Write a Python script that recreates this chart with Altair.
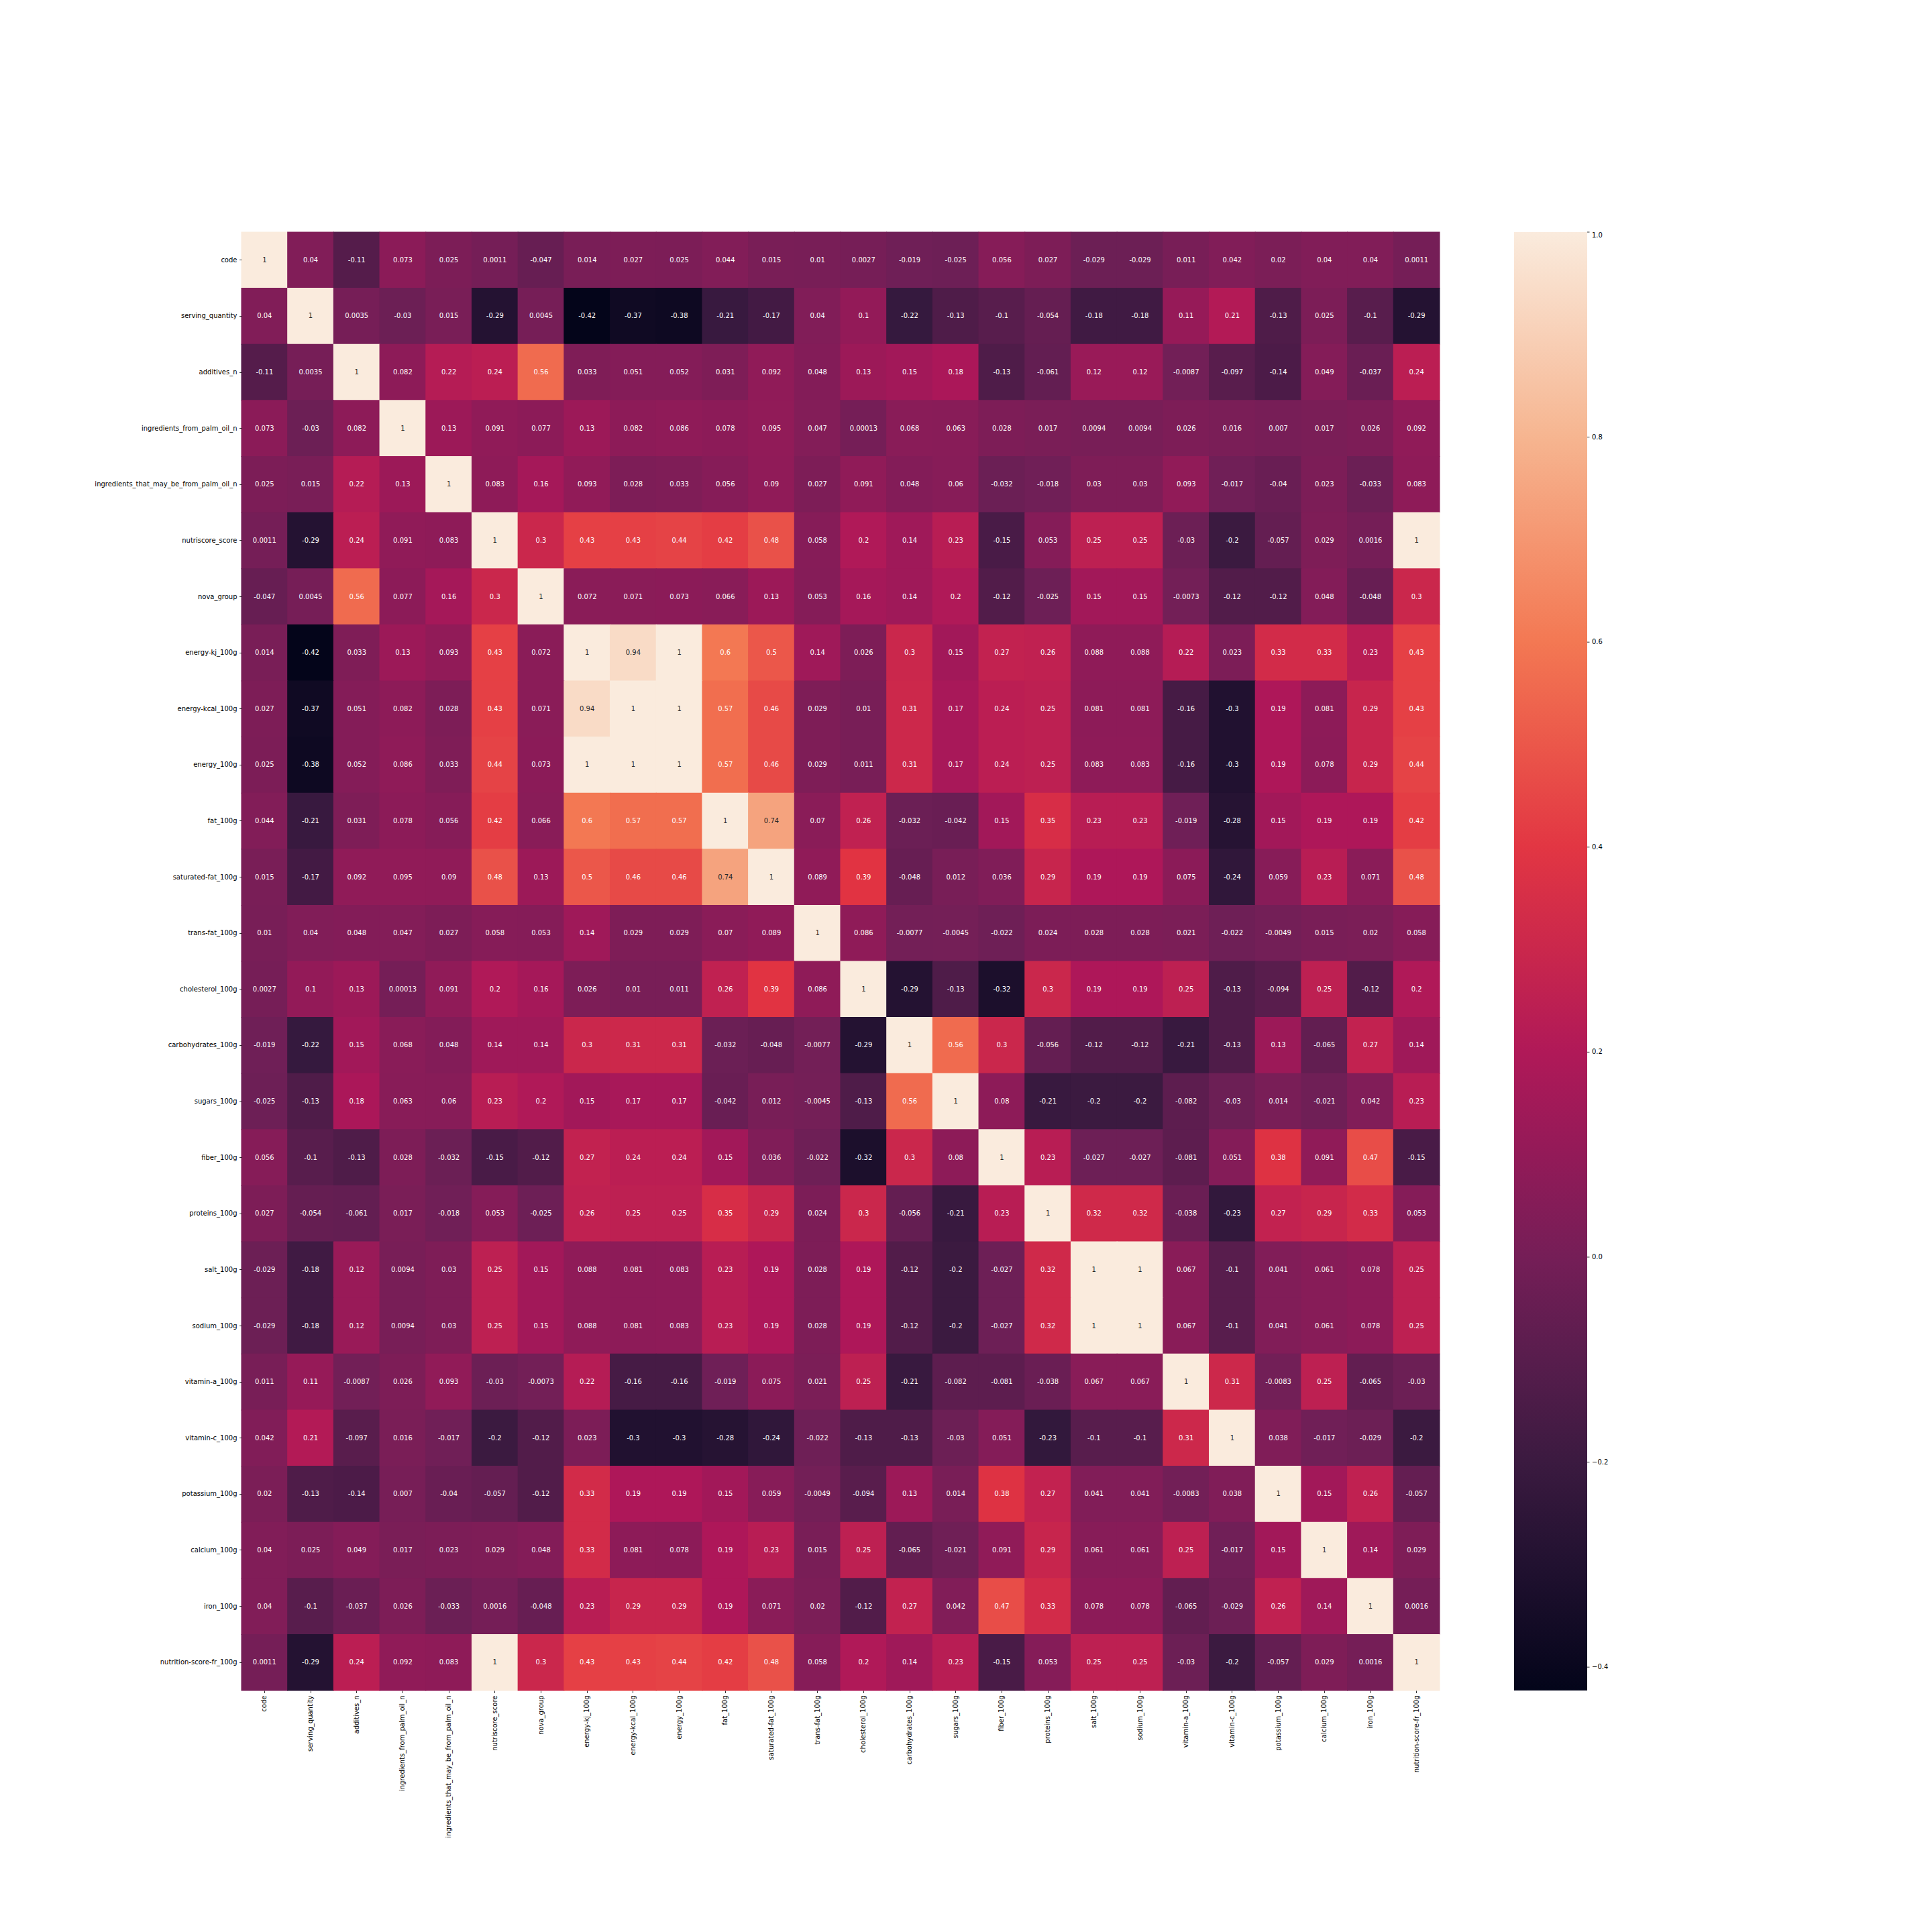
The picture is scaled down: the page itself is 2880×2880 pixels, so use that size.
import altair as alt
import pandas as pd

names = [
    "code", "serving_quantity", "additives_n", "ingredients_from_palm_oil_n",
    "ingredients_that_may_be_from_palm_oil_n", "nutriscore_score", "nova_group",
    "energy-kj_100g", "energy-kcal_100g", "energy_100g", "fat_100g",
    "saturated-fat_100g", "trans-fat_100g", "cholesterol_100g",
    "carbohydrates_100g", "sugars_100g", "fiber_100g", "proteins_100g",
    "salt_100g", "sodium_100g", "vitamin-a_100g", "vitamin-c_100g",
    "potassium_100g", "calcium_100g", "iron_100g", "nutrition-score-fr_100g",
]

corr_rows = [
    [1, 0.04, -0.11, 0.073, 0.025, 0.0011, -0.047, 0.014, 0.027, 0.025, 0.044, 0.015, 0.01, 0.0027, -0.019, -0.025, 0.056, 0.027, -0.029, -0.029, 0.011, 0.042, 0.02, 0.04, 0.04, 0.0011],
    [0.04, 1, 0.0035, -0.03, 0.015, -0.29, 0.0045, -0.42, -0.37, -0.38, -0.21, -0.17, 0.04, 0.1, -0.22, -0.13, -0.1, -0.054, -0.18, -0.18, 0.11, 0.21, -0.13, 0.025, -0.1, -0.29],
    [-0.11, 0.0035, 1, 0.082, 0.22, 0.24, 0.56, 0.033, 0.051, 0.052, 0.031, 0.092, 0.048, 0.13, 0.15, 0.18, -0.13, -0.061, 0.12, 0.12, -0.0087, -0.097, -0.14, 0.049, -0.037, 0.24],
    [0.073, -0.03, 0.082, 1, 0.13, 0.091, 0.077, 0.13, 0.082, 0.086, 0.078, 0.095, 0.047, 0.00013, 0.068, 0.063, 0.028, 0.017, 0.0094, 0.0094, 0.026, 0.016, 0.007, 0.017, 0.026, 0.092],
    [0.025, 0.015, 0.22, 0.13, 1, 0.083, 0.16, 0.093, 0.028, 0.033, 0.056, 0.09, 0.027, 0.091, 0.048, 0.06, -0.032, -0.018, 0.03, 0.03, 0.093, -0.017, -0.04, 0.023, -0.033, 0.083],
    [0.0011, -0.29, 0.24, 0.091, 0.083, 1, 0.3, 0.43, 0.43, 0.44, 0.42, 0.48, 0.058, 0.2, 0.14, 0.23, -0.15, 0.053, 0.25, 0.25, -0.03, -0.2, -0.057, 0.029, 0.0016, 1],
    [-0.047, 0.0045, 0.56, 0.077, 0.16, 0.3, 1, 0.072, 0.071, 0.073, 0.066, 0.13, 0.053, 0.16, 0.14, 0.2, -0.12, -0.025, 0.15, 0.15, -0.0073, -0.12, -0.12, 0.048, -0.048, 0.3],
    [0.014, -0.42, 0.033, 0.13, 0.093, 0.43, 0.072, 1, 0.94, 1, 0.6, 0.5, 0.14, 0.026, 0.3, 0.15, 0.27, 0.26, 0.088, 0.088, 0.22, 0.023, 0.33, 0.33, 0.23, 0.43],
    [0.027, -0.37, 0.051, 0.082, 0.028, 0.43, 0.071, 0.94, 1, 1, 0.57, 0.46, 0.029, 0.01, 0.31, 0.17, 0.24, 0.25, 0.081, 0.081, -0.16, -0.3, 0.19, 0.081, 0.29, 0.43],
    [0.025, -0.38, 0.052, 0.086, 0.033, 0.44, 0.073, 1, 1, 1, 0.57, 0.46, 0.029, 0.011, 0.31, 0.17, 0.24, 0.25, 0.083, 0.083, -0.16, -0.3, 0.19, 0.078, 0.29, 0.44],
    [0.044, -0.21, 0.031, 0.078, 0.056, 0.42, 0.066, 0.6, 0.57, 0.57, 1, 0.74, 0.07, 0.26, -0.032, -0.042, 0.15, 0.35, 0.23, 0.23, -0.019, -0.28, 0.15, 0.19, 0.19, 0.42],
    [0.015, -0.17, 0.092, 0.095, 0.09, 0.48, 0.13, 0.5, 0.46, 0.46, 0.74, 1, 0.089, 0.39, -0.048, 0.012, 0.036, 0.29, 0.19, 0.19, 0.075, -0.24, 0.059, 0.23, 0.071, 0.48],
    [0.01, 0.04, 0.048, 0.047, 0.027, 0.058, 0.053, 0.14, 0.029, 0.029, 0.07, 0.089, 1, 0.086, -0.0077, -0.0045, -0.022, 0.024, 0.028, 0.028, 0.021, -0.022, -0.0049, 0.015, 0.02, 0.058],
    [0.0027, 0.1, 0.13, 0.00013, 0.091, 0.2, 0.16, 0.026, 0.01, 0.011, 0.26, 0.39, 0.086, 1, -0.29, -0.13, -0.32, 0.3, 0.19, 0.19, 0.25, -0.13, -0.094, 0.25, -0.12, 0.2],
    [-0.019, -0.22, 0.15, 0.068, 0.048, 0.14, 0.14, 0.3, 0.31, 0.31, -0.032, -0.048, -0.0077, -0.29, 1, 0.56, 0.3, -0.056, -0.12, -0.12, -0.21, -0.13, 0.13, -0.065, 0.27, 0.14],
    [-0.025, -0.13, 0.18, 0.063, 0.06, 0.23, 0.2, 0.15, 0.17, 0.17, -0.042, 0.012, -0.0045, -0.13, 0.56, 1, 0.08, -0.21, -0.2, -0.2, -0.082, -0.03, 0.014, -0.021, 0.042, 0.23],
    [0.056, -0.1, -0.13, 0.028, -0.032, -0.15, -0.12, 0.27, 0.24, 0.24, 0.15, 0.036, -0.022, -0.32, 0.3, 0.08, 1, 0.23, -0.027, -0.027, -0.081, 0.051, 0.38, 0.091, 0.47, -0.15],
    [0.027, -0.054, -0.061, 0.017, -0.018, 0.053, -0.025, 0.26, 0.25, 0.25, 0.35, 0.29, 0.024, 0.3, -0.056, -0.21, 0.23, 1, 0.32, 0.32, -0.038, -0.23, 0.27, 0.29, 0.33, 0.053],
    [-0.029, -0.18, 0.12, 0.0094, 0.03, 0.25, 0.15, 0.088, 0.081, 0.083, 0.23, 0.19, 0.028, 0.19, -0.12, -0.2, -0.027, 0.32, 1, 1, 0.067, -0.1, 0.041, 0.061, 0.078, 0.25],
    [-0.029, -0.18, 0.12, 0.0094, 0.03, 0.25, 0.15, 0.088, 0.081, 0.083, 0.23, 0.19, 0.028, 0.19, -0.12, -0.2, -0.027, 0.32, 1, 1, 0.067, -0.1, 0.041, 0.061, 0.078, 0.25],
    [0.011, 0.11, -0.0087, 0.026, 0.093, -0.03, -0.0073, 0.22, -0.16, -0.16, -0.019, 0.075, 0.021, 0.25, -0.21, -0.082, -0.081, -0.038, 0.067, 0.067, 1, 0.31, -0.0083, 0.25, -0.065, -0.03],
    [0.042, 0.21, -0.097, 0.016, -0.017, -0.2, -0.12, 0.023, -0.3, -0.3, -0.28, -0.24, -0.022, -0.13, -0.13, -0.03, 0.051, -0.23, -0.1, -0.1, 0.31, 1, 0.038, -0.017, -0.029, -0.2],
    [0.02, -0.13, -0.14, 0.007, -0.04, -0.057, -0.12, 0.33, 0.19, 0.19, 0.15, 0.059, -0.0049, -0.094, 0.13, 0.014, 0.38, 0.27, 0.041, 0.041, -0.0083, 0.038, 1, 0.15, 0.26, -0.057],
    [0.04, 0.025, 0.049, 0.017, 0.023, 0.029, 0.048, 0.33, 0.081, 0.078, 0.19, 0.23, 0.015, 0.25, -0.065, -0.021, 0.091, 0.29, 0.061, 0.061, 0.25, -0.017, 0.15, 1, 0.14, 0.029],
    [0.04, -0.1, -0.037, 0.026, -0.033, 0.0016, -0.048, 0.23, 0.29, 0.29, 0.19, 0.071, 0.02, -0.12, 0.27, 0.042, 0.47, 0.33, 0.078, 0.078, -0.065, -0.029, 0.26, 0.14, 1, 0.0016],
    [0.0011, -0.29, 0.24, 0.092, 0.083, 1, 0.3, 0.43, 0.43, 0.44, 0.42, 0.48, 0.058, 0.2, 0.14, 0.23, -0.15, 0.053, 0.25, 0.25, -0.03, -0.2, -0.057, 0.029, 0.0016, 1],
]

cbar_ticks = [-0.4, -0.2, 0.0, 0.2, 0.4, 0.6, 0.8, 1.0]
vmin, vmax = -0.4228, 1.0

# rocket colormap stops
rocket = ["#03051a", "#35193e", "#701f57", "#ad1759", "#e13342", "#f37651", "#f6b48f", "#faebdd"]
dom = [vmin + (vmax - vmin) * i / 7 for i in range(8)]

records = []
for r, row in zip(names, corr_rows):
    for c, v in zip(names, row):
        records.append({"row": r, "col": c, "v": v, "label": format(v, ".2g")})
df = pd.DataFrame(records)

W, H = 1786, 2174
FONT = "DejaVu Sans"

band = alt.Scale(paddingInner=0, paddingOuter=0)

base = alt.Chart(df)

heat = base.mark_rect(
    width=alt.RelativeBandSize(1.015), height=alt.RelativeBandSize(1.012)
).encode(
    x=alt.X("col:N", sort=names, title=None, scale=band, axis=alt.Axis(labelAngle=-90)),
    y=alt.Y("row:N", sort=names, title=None, scale=band),
    color=alt.Color("v:Q", scale=alt.Scale(domain=dom, range=rocket, interpolate="rgb"),
        legend=alt.Legend(
        type="gradient", title=None, orient="none", legendX=1897, legendY=0,
        direction="vertical", gradientLength=H, gradientThickness=109,
        gradientStrokeWidth=0, values=cbar_ticks, format=".1f",
        labelFont=FONT, labelFontSize=10, labelColor="black",
        labelOffset=7, labelBaseline="middle", padding=0, labelOverlap=False,
    )),
)

text = base.mark_text(font=FONT, fontSize=10, align="center", baseline="middle").encode(
    x=alt.X("col:N", sort=names, title=None, scale=band),
    y=alt.Y("row:N", sort=names, title=None, axis=None, scale=band),
    text="label:N",
    color=alt.condition("datum.v >= 0.7", alt.value("#262626"), alt.value("#ffffff")),
)

ticks = alt.Chart(pd.DataFrame({"t": cbar_ticks})).mark_rule(color="black", strokeWidth=0.8).encode(
    y=alt.Y("t:Q", scale=alt.Scale(domain=[vmin, vmax], nice=False, zero=False), axis=None),
    x=alt.value(2006), x2=alt.value(2009.5),
)

chart = alt.layer(heat, text, ticks).resolve_scale(
    y="independent"
).properties(
    width=W, height=H,
    padding={"left": 352, "top": 338, "right": 726, "bottom": 352},
    autosize=alt.AutoSizeParams(type="none"),
).configure_view(
    strokeWidth=0
).configure_axis(
    labelFont=FONT, labelFontSize=10, labelColor="black", labelLimit=0,
    tickColor="black", tickSize=3.5, tickWidth=0.8, labelPadding=3.5,
    domain=False, grid=False,
)

chart.save("out.html", embed_options={"renderer": "svg", "actions": False})
